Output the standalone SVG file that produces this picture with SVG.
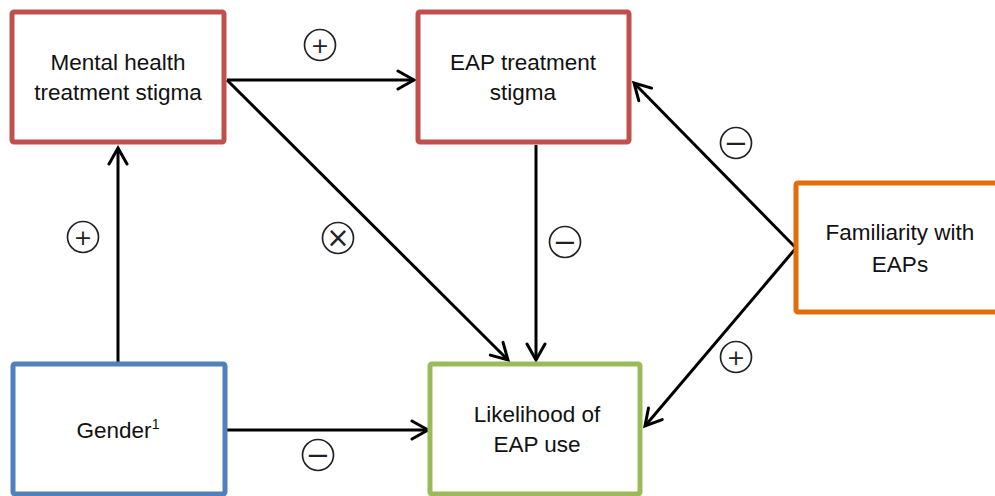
<svg xmlns="http://www.w3.org/2000/svg" width="995" height="496" viewBox="0 0 995 496">
<style>
.box{fill:#fff;stroke-width:5}
.lbl{font-family:"Liberation Sans",Arial,sans-serif;font-size:22.5px;fill:#111;text-anchor:middle}
.con{stroke:#000;stroke-width:3;fill:none;marker-end:url(#ah)}
.sym circle{fill:#fff;stroke:#222;stroke-width:1.7}
.sym text{font-family:"DejaVu Sans",sans-serif;fill:#222;text-anchor:middle}
.p{font-size:22px}
.m{font-size:29px}
.x{font-size:28px}
</style>
<defs>
<marker id="ah" markerUnits="userSpaceOnUse" viewBox="-20 -12 23 24" markerWidth="23" markerHeight="24" refX="0" refY="0" orient="auto">
<path d="M-16,-9 L0,0 L-16,9" fill="none" stroke="#000" stroke-width="3" stroke-linecap="round" stroke-linejoin="miter"/>
</marker>
</defs>
<rect width="995" height="496" fill="#fff"/>
<g id="connectors">
<line class="con" x1="118" y1="362" x2="118" y2="148"/>
<line class="con" x1="227" y1="80" x2="414" y2="80"/>
<line class="con" x1="227" y1="80" x2="508" y2="360"/>
<line class="con" x1="536" y1="145" x2="536" y2="360"/>
<line class="con" x1="796" y1="248" x2="634" y2="83"/>
<line class="con" x1="796" y1="248" x2="645" y2="426"/>
<line class="con" x1="227" y1="430" x2="428" y2="430"/>
</g>
<g id="node-mental">
<rect class="box" x="12" y="12" width="212" height="130" rx="2" stroke="#C0504D"/>
<text class="lbl" x="118" y="70">Mental health</text>
<text class="lbl" x="118" y="100">treatment stigma</text>
</g>
<g id="node-eap-stigma">
<rect class="box" x="418" y="12" width="211" height="130" rx="2" stroke="#C0504D"/>
<text class="lbl" x="523" y="70">EAP treatment</text>
<text class="lbl" x="523" y="100">stigma</text>
</g>
<g id="node-familiarity">
<rect class="box" x="796" y="183" width="220" height="129" rx="2" stroke="#E46C0A"/>
<text class="lbl" x="900" y="240">Familiarity with</text>
<text class="lbl" x="900" y="272">EAPs</text>
</g>
<g id="node-gender">
<rect class="box" x="13" y="364" width="212" height="130" rx="2" stroke="#4F81BD"/>
<text class="lbl" x="118" y="438">Gender<tspan font-size="14" dy="-9">1</tspan></text>
</g>
<g id="node-likelihood">
<rect class="box" x="430" y="364" width="210" height="130" rx="2" stroke="#9BBB59"/>
<text class="lbl" x="537" y="422">Likelihood of</text>
<text class="lbl" x="537" y="452">EAP use</text>
</g>
<g id="signs" class="sym">
<circle cx="320" cy="45" r="15.5"/><text class="p" x="320" y="52.5">+</text>
<circle cx="83" cy="237" r="15.5"/><text class="p" x="83" y="244.5">+</text>
<circle cx="338" cy="238" r="15.5"/><text class="x" x="338" y="247">×</text>
<circle cx="565" cy="242" r="15.5"/><text class="m" x="565" y="252">−</text>
<circle cx="736" cy="143" r="15.5"/><text class="m" x="736" y="153">−</text>
<circle cx="736" cy="357" r="15.5"/><text class="p" x="736" y="364.5">+</text>
<circle cx="318" cy="455" r="15.5"/><text class="m" x="318" y="465">−</text>
</g>
</svg>
